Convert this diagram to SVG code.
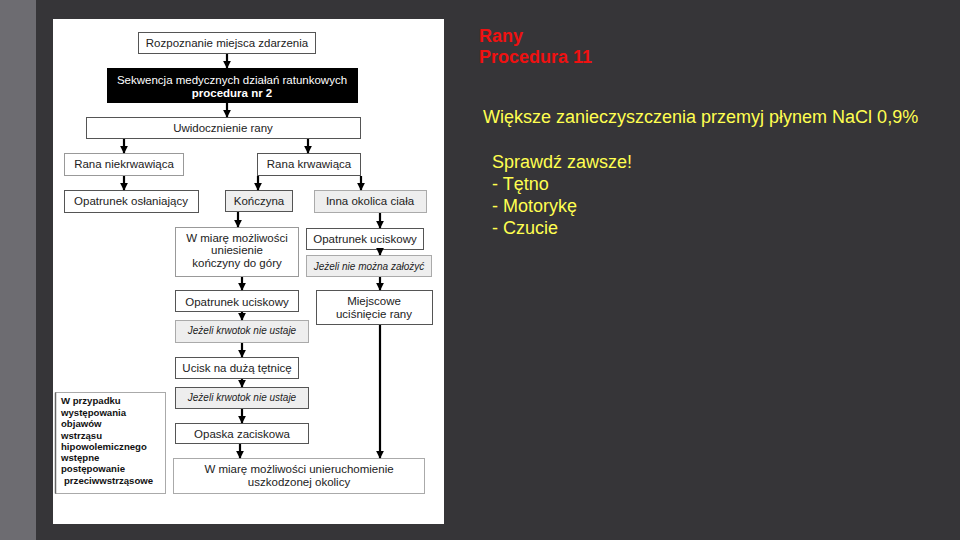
<svg xmlns="http://www.w3.org/2000/svg" width="960" height="540" viewBox="0 0 960 540">
<defs>
<style>
.bx{fill:#fff;stroke:#555;stroke-width:1}
.gb{fill:#eeeeee;stroke:#555;stroke-width:1}
.t{font-family:"Liberation Sans",Arial,sans-serif;font-size:11.5px;fill:#222;text-anchor:middle}
.it{font-family:"Liberation Sans",Arial,sans-serif;font-size:10px;font-style:italic;fill:#222;text-anchor:middle}
.lb{font-family:"Liberation Sans",Arial,sans-serif;font-size:9.6px;font-weight:bold;fill:#111}
.ar{stroke:#000;stroke-width:2.2;fill:none;marker-end:url(#ah)}
.y{font-family:"Liberation Sans",Arial,sans-serif;font-size:18px;fill:#ffff50}
.r{font-family:"Liberation Sans",Arial,sans-serif;font-size:18px;font-weight:bold;fill:#ee1111}
</style>
<marker id="ah" viewBox="0 0 10 10" refX="9" refY="5" markerWidth="3.6" markerHeight="3.6" orient="auto" markerUnits="strokeWidth">
<path d="M0,0 L10,5 L0,10 z" fill="#000"/>
</marker>
</defs>
<rect x="0" y="0" width="960" height="540" fill="#363538"/>
<rect x="0" y="0" width="36" height="540" fill="#6d6c71"/>
<rect x="53" y="19" width="391" height="505" fill="#fff"/>

<g id="n1"><rect class="bx" x="138.5" y="32.5" width="177" height="21"/><text class="t" x="227" y="47">Rozpoznanie miejsca zdarzenia</text></g>
<g id="n2"><rect x="107" y="68" width="251" height="35" fill="#000"/><text class="t" x="232" y="84" style="fill:#fff">Sekwencja medycznych działań ratunkowych</text><text class="t" x="232" y="97" style="fill:#fff;font-weight:bold">procedura nr 2</text></g>
<g id="n3"><rect class="bx" x="86.5" y="117.5" width="274" height="21"/><text class="t" x="223" y="132">Uwidocznienie rany</text></g>
<g id="n4"><rect class="bx" x="64.5" y="153.5" width="119" height="22" style="stroke:#999"/><text class="t" x="124" y="168">Rana niekrwawiąca</text></g>
<g id="n5"><rect class="bx" x="257.5" y="153.5" width="103" height="22"/><text class="t" x="309" y="168">Rana krwawiąca</text></g>
<g id="n6"><rect class="bx" x="64.5" y="190.5" width="134" height="22"/><text class="t" x="131" y="205">Opatrunek osłaniający</text></g>
<g id="n7"><rect class="gb" x="225.5" y="190.5" width="67" height="21"/><text class="t" x="259" y="205">Kończyna</text></g>
<g id="n8"><rect class="gb" x="314.5" y="190.5" width="112" height="22" style="stroke:#aaa"/><text class="t" x="370" y="205">Inna okolica ciała</text></g>
<g id="n9"><rect class="bx" x="175.5" y="227.5" width="123" height="49" style="stroke:#999"/><text class="t" x="237" y="242">W miarę możliwości</text><text class="t" x="237" y="254">uniesienie</text><text class="t" x="237" y="267">kończyny do góry</text></g>
<g id="n10"><rect class="bx" x="306.5" y="228.5" width="117" height="21"/><text class="t" x="365" y="243">Opatrunek uciskowy</text></g>
<g id="n11"><rect class="gb" x="306.5" y="255.5" width="125" height="21" style="stroke:#aaa"/><text class="it" x="369" y="269.5">Jeżeli nie można założyć</text></g>
<g id="n12"><rect class="bx" x="175.5" y="290.5" width="123" height="21"/><text class="t" x="237" y="306">Opatrunek uciskowy</text></g>
<g id="n13"><rect class="bx" x="316.5" y="290.5" width="116" height="34"/><text class="t" x="374" y="305">Miejscowe</text><text class="t" x="374" y="318">uciśnięcie rany</text></g>
<g id="n14"><rect class="gb" x="175.5" y="320.5" width="133" height="22" style="stroke:#aaa"/><text class="it" x="242" y="334">Jeżeli krwotok nie ustaje</text></g>
<g id="n15"><rect class="bx" x="175.5" y="357.5" width="123" height="21"/><text class="t" x="237" y="371.5">Ucisk na dużą tętnicę</text></g>
<g id="n16"><rect class="gb" x="175.5" y="387.5" width="133" height="21"/><text class="it" x="242" y="401">Jeżeli krwotok nie ustaje</text></g>
<g id="n17"><rect class="bx" x="175.5" y="423.5" width="133" height="20"/><text class="t" x="242" y="437.5">Opaska zaciskowa</text></g>
<g id="n18"><rect class="bx" x="173.5" y="458.5" width="251" height="35" style="stroke:#aaa"/><text class="t" x="299" y="473">W miarę możliwości unieruchomienie</text><text class="t" x="299" y="486">uszkodzonej okolicy</text></g>
<g id="n19"><rect class="bx" x="55.5" y="392.5" width="110" height="101" style="stroke:#aaa"/><path d="M55.5,392.5 V493.5" stroke="#666" stroke-width="1.5"/>
<text class="lb" x="61" y="404">W przypadku</text><text class="lb" x="61" y="416">występowania</text><text class="lb" x="61" y="427">objawów</text><text class="lb" x="61" y="438.5">wstrząsu</text><text class="lb" x="61" y="449.5">hipowolemicznego</text><text class="lb" x="61" y="460.5">wstępne</text><text class="lb" x="61" y="472">postępowanie</text><text class="lb" x="64" y="484">przeciwwstrząsowe</text></g>

<g id="connectors">
<path class="ar" d="M227,54 V68"/>
<path class="ar" d="M227,103 V117"/>
<path class="ar" d="M124,139 V153"/>
<path class="ar" d="M308,139 V153"/>
<path class="ar" d="M124,176 V190"/>
<path class="ar" d="M258,176 V190"/>
<path class="ar" d="M361,176 V190"/>
<path class="ar" d="M238,212 V227"/>
<path class="ar" d="M380,213 V228"/>
<path class="ar" d="M380,249 V255"/>
<path class="ar" d="M380,277 V290"/>
<path class="ar" d="M242,277 V290"/>
<path class="ar" d="M242,312 V320"/>
<path class="ar" d="M242,343 V357"/>
<path class="ar" d="M242,379 V387"/>
<path class="ar" d="M242,409 V423"/>
<path class="ar" d="M240,444 V458"/>
<path class="ar" d="M380,325 V458"/>
</g>

<g id="notes">
<text class="r" x="479" y="42">Rany</text>
<text class="r" x="479" y="63">Procedura 11</text>
<text class="y" x="483" y="123">Większe zanieczyszczenia przemyj płynem NaCl 0,9%</text>
<text class="y" x="492" y="168">Sprawdź zawsze!</text>
<text class="y" x="492" y="190">- Tętno</text>
<text class="y" x="492" y="212">- Motorykę</text>
<text class="y" x="492" y="234">- Czucie</text>
</g>
</svg>
